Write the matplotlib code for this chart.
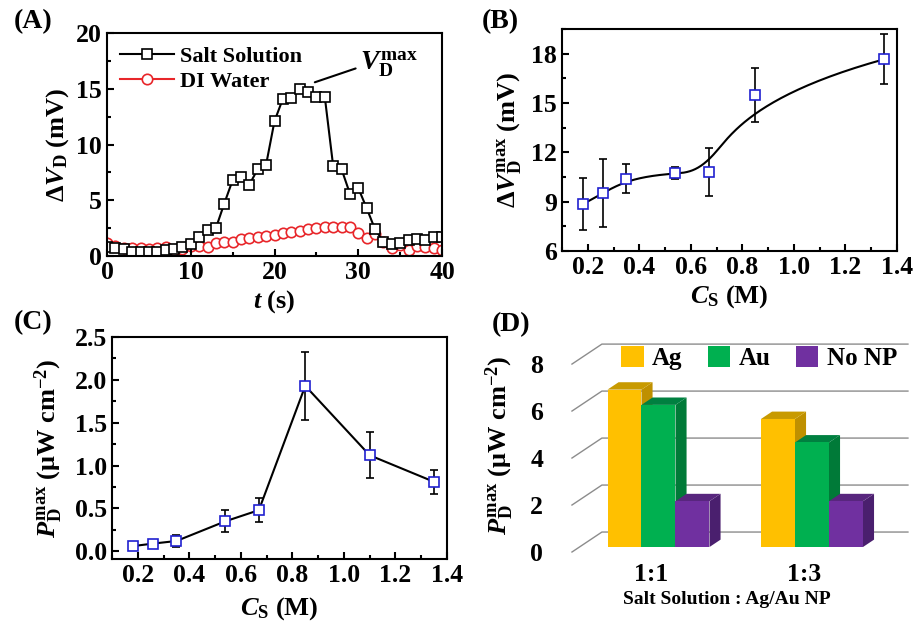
import numpy as np
import matplotlib
matplotlib.use("Agg")
import matplotlib.pyplot as plt
from matplotlib.patches import Polygon, Patch
from matplotlib.ticker import MultipleLocator

plt.rcParams['font.family'] = ['Liberation Serif', 'DejaVu Serif']
plt.rcParams['font.weight'] = 'bold'
plt.rcParams['axes.labelweight'] = 'bold'
plt.rcParams['mathtext.fontset'] = 'custom'
plt.rcParams['mathtext.rm'] = 'Liberation Serif:bold'
plt.rcParams['mathtext.it'] = 'Liberation Serif:italic:bold'
plt.rcParams['mathtext.bf'] = 'Liberation Serif:bold'
plt.rcParams['axes.linewidth'] = 1.5

# (A) potential response vs time
t = np.arange(0, 41)
salt = [0.8, 0.7, 0.6, 0.4, 0.4, 0.4, 0.4, 0.5, 0.6, 0.8, 1.1, 1.7, 2.3, 2.5,
        4.7, 6.8, 7.1, 6.4, 7.8, 8.2, 12.1, 14.1, 14.2, 15.0, 14.7, 14.3, 14.3,
        8.1, 7.8, 5.6, 6.1, 4.3, 2.4, 1.3, 1.1, 1.2, 1.4, 1.5, 1.4, 1.7, 1.7]
di_water = [1.14, 0.93, 0.75, 0.69, 0.69, 0.6, 0.75, 0.84, 0.54, 0.66, 0.93,
            0.93, 0.84, 1.2, 1.29, 1.29, 1.5, 1.65, 1.74, 1.8, 1.89, 2.04, 2.19,
            2.28, 2.4, 2.49, 2.63, 2.63, 2.63, 2.57, 2.04, 1.59, 1.95, 1.29,
            0.69, 1.0, 0.54, 0.9, 0.84, 0.69, 0.54]

# (B) peak potential vs salt concentration
cs_b = [0.18, 0.26, 0.35, 0.54, 0.67, 0.85, 1.35]
vmax = [8.84, 9.53, 10.4, 10.75, 10.79, 15.49, 17.66]
vmax_err = [1.57, 2.05, 0.9, 0.38, 1.46, 1.65, 1.53]

# (C) peak power density vs salt concentration
cs_c = [0.18, 0.26, 0.35, 0.54, 0.67, 0.85, 1.10, 1.35]
pmax = [0.06, 0.09, 0.12, 0.35, 0.48, 1.93, 1.12, 0.81]
pmax_err = [0.03, 0.04, 0.07, 0.13, 0.14, 0.40, 0.27, 0.14]

# (D) power density with nanoparticles
ratios = ['1:1', '1:3']
np_types = ['Ag', 'Au', 'No NP']
power = {'Ag': [6.7, 5.45], 'Au': [6.05, 4.45], 'No NP': [1.95, 1.95]}
face_colors = {'Ag': ('#FFC000', '#C89A00', '#BF9000'),
               'Au': ('#00B050', '#008040', '#007A38'),
               'No NP': ('#7030A0', '#58267E', '#4A1F6E')}

W, H = 915, 628
TICK_FS = 18.5
LABEL_FS = 19
fig = plt.figure(figsize=(W / 100, H / 100), dpi=100)


def box(l, t_, r, b):
    return [l / W, 1 - b / H, (r - l) / W, (b - t_) / H]


def style_ticks(ax):
    ax.tick_params(which='both', direction='in', top=False, right=False,
                   labelsize=TICK_FS, width=1.5)
    ax.tick_params(which='major', length=5)
    ax.tick_params(which='minor', length=3)


def bspline(xs, ys, n=300, k=3):
    # clamped B-spline with the data points as control points
    m = len(xs)
    knots = np.concatenate([np.zeros(k), np.linspace(0, 1, m - k + 1), np.ones(k)])
    u = np.linspace(0, 1 - 1e-9, n)
    B = np.array([(knots[i] <= u) & (u < knots[i + 1])
                  for i in range(len(knots) - 1)], dtype=float).T
    for d in range(1, k + 1):
        nb = len(knots) - 1 - d
        Bn = np.zeros((len(u), nb))
        for i in range(nb):
            den1 = knots[i + d] - knots[i]
            den2 = knots[i + d + 1] - knots[i + 1]
            if den1 > 0:
                Bn[:, i] += (u - knots[i]) / den1 * B[:, i]
            if den2 > 0:
                Bn[:, i] += (knots[i + d + 1] - u) / den2 * B[:, i + 1]
        B = Bn
    return B @ np.asarray(xs), B @ np.asarray(ys)


# ---- (A)
axA = fig.add_axes(box(107, 33, 442, 256))
axA.plot(t, salt, '-s', color='black', lw=1.5, ms=7, mfc='white', mec='black',
         mew=1.2, label='Salt Solution')
axA.plot(t, di_water, '-o', color='#E8262A', lw=1.5, ms=7.5, mfc='white',
         mec='#E8262A', mew=1.2, label='DI Water', zorder=1)
axA.set_xlim(0, 40)
axA.set_ylim(0, 20)
axA.xaxis.set_major_locator(MultipleLocator(10))
axA.xaxis.set_minor_locator(MultipleLocator(5))
axA.yaxis.set_major_locator(MultipleLocator(5))
axA.yaxis.set_minor_locator(MultipleLocator(2.5))
style_ticks(axA)
axA.set_xlabel(r'$\mathit{t}$ (s)', fontsize=LABEL_FS, labelpad=3)
axA.set_ylabel(r'$\mathit{\Delta V}_{\mathrm{D}}$ (mV)', fontsize=LABEL_FS, labelpad=4)
axA.legend(loc='upper left', frameon=False, fontsize=16, handlelength=2.4,
           handletextpad=0.3, borderaxespad=0.2, labelspacing=0.2)
axA.annotate('', xy=(24.5, 15.5), xytext=(30.0, 16.9),
             arrowprops=dict(arrowstyle='-', color='black', lw=1.5))
axA.text(30.2, 17.2, r'$\mathit{V}_{\mathrm{D}}^{\mathrm{max}}$', fontsize=20,
         ha='left', va='center')
fig.text(33 / W, 1 - 22 / H, '(A)', fontsize=20, ha='center', va='center')

# ---- (B)
axB = fig.add_axes(box(562, 29, 897, 251))
cx, cy = bspline(cs_b, vmax)
axB.plot(cx, cy, color='black', lw=1.5)
axB.errorbar(cs_b, vmax, yerr=vmax_err, fmt='s', ms=7, mfc='white', mec='#2020D0',
             mew=1.2, ecolor='black', elinewidth=1.2, capsize=3, capthick=1.2)
axB.set_xlim(0.1, 1.4)
axB.set_ylim(6, 19.5)
axB.xaxis.set_major_locator(MultipleLocator(0.2))
axB.xaxis.set_minor_locator(MultipleLocator(0.1))
axB.yaxis.set_major_locator(MultipleLocator(3))
axB.yaxis.set_minor_locator(MultipleLocator(1.5))
axB.xaxis.set_major_formatter(lambda v, p: f'{v:.1f}')
style_ticks(axB)
axB.set_xlabel(r'$\mathit{C}_{\mathrm{S}}$ (M)', fontsize=LABEL_FS, labelpad=3)
axB.set_ylabel(r'$\mathit{\Delta V}_{\mathrm{D}}^{\mathrm{max}}$ (mV)',
               fontsize=LABEL_FS, labelpad=5)
fig.text(500 / W, 1 - 22 / H, '(B)', fontsize=20, ha='center', va='center')

# ---- (C)
axC = fig.add_axes(box(112, 337, 447, 559))
axC.errorbar(cs_c, pmax, yerr=pmax_err, fmt='-s', color='black', lw=1.5, ms=7,
             mfc='white', mec='#2020D0', mew=1.2, ecolor='black', elinewidth=1.2,
             capsize=3, capthick=1.2)
axC.set_xlim(0.1, 1.4)
axC.set_ylim(-0.09, 2.5)
axC.xaxis.set_major_locator(MultipleLocator(0.2))
axC.xaxis.set_minor_locator(MultipleLocator(0.1))
axC.yaxis.set_major_locator(MultipleLocator(0.5))
axC.yaxis.set_minor_locator(MultipleLocator(0.25))
axC.xaxis.set_major_formatter(lambda v, p: f'{v:.1f}')
axC.yaxis.set_major_formatter(lambda v, p: f'{v:.1f}')
style_ticks(axC)
axC.set_xlabel(r'$\mathit{C}_{\mathrm{S}}$ (M)', fontsize=LABEL_FS, labelpad=6)
axC.set_ylabel(r'$\mathit{P}_{\mathrm{D}}^{\mathrm{max}}$ ($\mathrm{\mu}$W cm$^{-2}$)',
               fontsize=LABEL_FS, labelpad=7)
fig.text(33 / W, 1 - 323 / H, '(C)', fontsize=20, ha='center', va='center')

# ---- (D) pseudo-3D bar chart
# x in group units (group spacing 1), y in power units; depth d in [0, 1]
# shifts a point by (DX, DY)
DX, DY = 0.195, 0.85
bar_w = 0.2215
d0, d1 = 0.25, 0.62
wall_x, grid_end = -0.515, 1.674
axD = fig.add_axes(box(560, 330, 915, 560))
axD.set_xlim(-0.593, 1.72)
axD.set_ylim(-0.34, 9.45)
for s in axD.spines.values():
    s.set_visible(False)

for v in range(0, 9, 2):
    axD.plot([wall_x, wall_x + DX, grid_end], [v, v + DY, v + DY],
             color='#8C8C8C', lw=1.0, zorder=1)

for gi in range(len(ratios)):
    for bi, name in enumerate(np_types):
        val = power[name][gi]
        front, top, side = face_colors[name]
        x0 = gi + (bi - 1.5) * bar_w + d0 * DX
        x1 = x0 + bar_w
        y0 = d0 * DY
        y1 = val + d0 * DY
        ddx, ddy = (d1 - d0) * DX, (d1 - d0) * DY
        axD.add_patch(Polygon([(x1, y0), (x1 + ddx, y0 + ddy), (x1 + ddx, y1 + ddy),
                               (x1, y1)], closed=True, fc=side, ec='none', zorder=3))
        axD.add_patch(Polygon([(x0, y1), (x1, y1), (x1 + ddx, y1 + ddy),
                               (x0 + ddx, y1 + ddy)], closed=True, fc=top, ec='none',
                              zorder=3))
        axD.add_patch(Polygon([(x0, y0), (x1, y0), (x1, y1), (x0, y1)], closed=True,
                              fc=front, ec='none', zorder=4))

axD.set_yticks(range(0, 9, 2))
axD.set_xticks(range(len(ratios)))
axD.set_xticklabels(ratios)
axD.tick_params(axis='y', length=0, pad=12, labelsize=TICK_FS)
axD.tick_params(axis='x', length=0, pad=2, labelsize=TICK_FS)
axD.set_xlabel('Salt Solution : Ag/Au NP', fontsize=14)
axD.xaxis.set_label_coords(0.47, -0.135)
axD.set_ylabel(r'$\mathit{P}_{\mathrm{D}}^{\mathrm{max}}$ ($\mathrm{\mu}$W cm$^{-2}$)',
               fontsize=LABEL_FS, labelpad=10)
handles = [Patch(fc=face_colors[n][0], ec='none') for n in np_types]
axD.legend(handles, np_types, loc='center right', ncol=3, frameon=False, fontsize=18,
           handlelength=0.9, handleheight=0.9, handletextpad=0.35, columnspacing=1.0,
           bbox_to_anchor=(1.0, 0.878), borderpad=0.2)
fig.text(511 / W, 1 - 325 / H, '(D)', fontsize=20, ha='center', va='center')

fig.savefig('out.png', dpi=100)
